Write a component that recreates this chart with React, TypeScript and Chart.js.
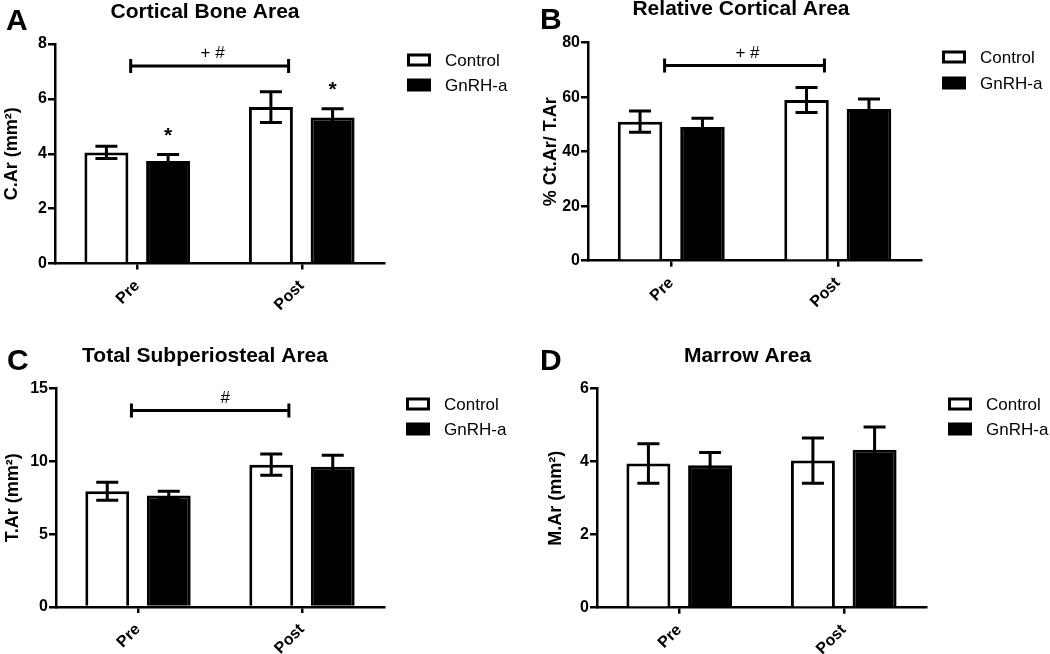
import React, { useEffect, useRef } from 'react';
import { Chart, registerables } from 'chart.js';

Chart.register(...registerables);

const FONT = "'Liberation Sans', Arial, Helvetica, sans-serif";

// ---------- data ----------
const categories = ['Pre', 'Post'];
const seriesNames = ['Control', 'GnRH-a'];

// A: Cortical Bone Area
const controlA = [4.05, 5.7];
const controlAErr = [0.22, 0.56];
const gnrhA = [3.74, 5.32];
const gnrhAErr = [0.23, 0.32];
const gnrhAStars = ['*', '*'];
const ticksA = [0, 2, 4, 6, 8];
const sigAValue = 7.2;
const sigALabel = '+ #';

// B: Relative Cortical Area
const controlB = [51.0, 59.0];
const controlBErr = [3.9, 4.6];
const gnrhB = [49.1, 55.7];
const gnrhBErr = [3.2, 3.6];
const gnrhBStars = ['', ''];
const ticksB = [0, 20, 40, 60, 80];
const sigBValue = 71.6;
const sigBLabel = '+ #';

// C: Total Subperiosteal Area
const controlC = [7.95, 9.78];
const controlCErr = [0.62, 0.73];
const gnrhC = [7.67, 9.64];
const gnrhCErr = [0.28, 0.78];
const gnrhCStars = ['', ''];
const ticksC = [0, 5, 10, 15];
const sigCValue = 13.5;
const sigCLabel = '#';

// D: Marrow Area
const controlD = [3.95, 4.03];
const controlDErr = [0.54, 0.62];
const gnrhD = [3.9, 4.33];
const gnrhDErr = [0.35, 0.62];
const gnrhDStars = ['', ''];
const ticksD = [0, 2, 4, 6];

// ---------- panel setup ----------
const W = 525;
const H = 327;

type Panel = {
  letter: string;
  title: string;
  yTitle: string;
  control: number[];
  controlErr: number[];
  gnrh: number[];
  gnrhErr: number[];
  stars: string[];
  ticks: number[];
  sig: { value: number; label: string; labelShift: number } | null;
  pos: { left: number; top: number };
  area: { l: number; t: number; r: number; b: number };
  yTitlePad: number;
  legend: { x: number; y: number; gap: number };
  titlePos: { x: number; baseline: number };
  letterPos: { x: number; baseline: number };
};

const panels: Panel[] = [
  {
    letter: 'A', title: 'Cortical Bone Area', yTitle: 'C.Ar (mm²)',
    control: controlA, controlErr: controlAErr, gnrh: gnrhA, gnrhErr: gnrhAErr, stars: gnrhAStars,
    ticks: ticksA, sig: { value: sigAValue, label: sigALabel, labelShift: 3 },
    pos: { left: 0, top: 0 }, area: { l: 55, t: 44, r: 384, b: 263.5 }, yTitlePad: 1,
    legend: { x: 407, y: 60, gap: 25 }, titlePos: { x: 205, baseline: 18 }, letterPos: { x: 6, baseline: 30 },
  },
  {
    letter: 'B', title: 'Relative Cortical Area', yTitle: '% Ct.Ar/ T.Ar',
    control: controlB, controlErr: controlBErr, gnrh: gnrhB, gnrhErr: gnrhBErr, stars: gnrhBStars,
    ticks: ticksB, sig: { value: sigBValue, label: sigBLabel, labelShift: 3 },
    pos: { left: 525, top: 0 }, area: { l: 63, t: 42.7, r: 396, b: 260.7 }, yTitlePad: 15,
    legend: { x: 417, y: 57, gap: 26 }, titlePos: { x: 216, baseline: 15 }, letterPos: { x: 15, baseline: 29 },
  },
  {
    letter: 'C', title: 'Total Subperiosteal Area', yTitle: 'T.Ar (mm²)',
    control: controlC, controlErr: controlCErr, gnrh: gnrhC, gnrhErr: gnrhCErr, stars: gnrhCStars,
    ticks: ticksC, sig: { value: sigCValue, label: sigCLabel, labelShift: 15 },
    pos: { left: 0, top: 327 }, area: { l: 56, t: 61.7, r: 384, b: 280 }, yTitlePad: 2,
    legend: { x: 406, y: 77, gap: 25 }, titlePos: { x: 205, baseline: 35 }, letterPos: { x: 7, baseline: 43 },
  },
  {
    letter: 'D', title: 'Marrow Area', yTitle: 'M.Ar (mm²)',
    control: controlD, controlErr: controlDErr, gnrh: gnrhD, gnrhErr: gnrhDErr, stars: gnrhDStars,
    ticks: ticksD, sig: null,
    pos: { left: 525, top: 327 }, area: { l: 72, t: 61.7, r: 401, b: 280.7 }, yTitlePad: 20,
    legend: { x: 423, y: 77, gap: 25 }, titlePos: { x: 222.5, baseline: 35 }, letterPos: { x: 15, baseline: 43 },
  },
];

const decorPlugin = {
  id: 'panelDecor',
  afterDatasetsDraw(chart: any, _args: any, opts: any) {
    const p: Panel = opts.panel;
    if (!p) return;
    const ctx: CanvasRenderingContext2D = chart.ctx;
    const xs = chart.scales.x;
    const ys = chart.scales.y;
    const errs = [p.controlErr, p.gnrhErr];
    ctx.save();
    ctx.strokeStyle = '#000';
    ctx.lineWidth = 3;
    ctx.lineCap = 'butt';
    const capHalf = 11;
    chart.data.datasets.forEach((ds: any, di: number) => {
      const meta = chart.getDatasetMeta(di);
      meta.data.forEach((bar: any, j: number) => {
        const v = ds.data[j];
        const e = errs[di][j];
        const top = ys.getPixelForValue(v + e);
        const bot = ys.getPixelForValue(v - e);
        ctx.beginPath();
        ctx.moveTo(bar.x, top);
        ctx.lineTo(bar.x, bot);
        ctx.moveTo(bar.x - capHalf, top);
        ctx.lineTo(bar.x + capHalf, top);
        ctx.moveTo(bar.x - capHalf, bot);
        ctx.lineTo(bar.x + capHalf, bot);
        ctx.stroke();
        if (di === 1 && p.stars[j]) {
          ctx.fillStyle = '#000';
          ctx.font = `bold 21px ${FONT}`;
          ctx.textAlign = 'center';
          ctx.textBaseline = 'alphabetic';
          ctx.fillText(p.stars[j], bar.x, top - 13);
        }
      });
    });

    // significance bracket
    if (p.sig) {
      const x1 = xs.getPixelForValue(-0.04);
      const x2 = xs.getPixelForValue(0.92);
      const yy = ys.getPixelForValue(p.sig.value);
      ctx.lineWidth = 3;
      ctx.beginPath();
      ctx.moveTo(x1, yy);
      ctx.lineTo(x2, yy);
      ctx.moveTo(x1, yy - 7);
      ctx.lineTo(x1, yy + 7);
      ctx.moveTo(x2, yy - 7);
      ctx.lineTo(x2, yy + 7);
      ctx.stroke();
      ctx.fillStyle = '#000';
      ctx.font = `17px ${FONT}`;
      ctx.textAlign = 'center';
      ctx.textBaseline = 'alphabetic';
      ctx.fillText(p.sig.label, (x1 + x2) / 2 + p.sig.labelShift, yy - 8);
    }
    ctx.restore();
  },
  afterDraw(chart: any, _args: any, opts: any) {
    const p: Panel = opts.panel;
    if (!p) return;
    const ctx: CanvasRenderingContext2D = chart.ctx;
    ctx.save();
    ctx.fillStyle = '#000';
    // panel letter
    ctx.font = `bold 30px ${FONT}`;
    ctx.textAlign = 'left';
    ctx.textBaseline = 'alphabetic';
    ctx.fillText(p.letter, p.letterPos.x, p.letterPos.baseline);
    // title
    ctx.font = `bold 21px ${FONT}`;
    ctx.textAlign = 'center';
    ctx.fillText(p.title, p.titlePos.x, p.titlePos.baseline);
    // legend
    chart.data.datasets.forEach((ds: any, i: number) => {
      const cy = p.legend.y + i * p.legend.gap;
      const bx = p.legend.x;
      const bw = 24;
      const bh = 13;
      ctx.fillStyle = ds.borderColor;
      ctx.fillRect(bx, cy - bh / 2, bw, bh);
      ctx.fillStyle = ds.backgroundColor;
      ctx.fillRect(bx + 3, cy - bh / 2 + 3, bw - 6, bh - 6);
      ctx.fillStyle = '#000';
      ctx.font = `17px ${FONT}`;
      ctx.textAlign = 'left';
      ctx.textBaseline = 'middle';
      ctx.fillText(ds.label, bx + 38, cy + 1);
    });
    ctx.restore();
  },
};

function PanelChart({ p }: { p: Panel }) {
  const ref = useRef<HTMLCanvasElement | null>(null);
  useEffect(() => {
    if (!ref.current) return;
    const t = p.ticks;
    const chart = new Chart(ref.current, {
      type: 'bar',
      data: {
        labels: categories,
        datasets: [
          {
            label: seriesNames[0],
            data: p.control,
            backgroundColor: '#ffffff',
            borderColor: '#000000',
            borderWidth: 3,
            categoryPercentage: 0.75,
            barPercentage: 0.713,
          },
          {
            label: seriesNames[1],
            data: p.gnrh,
            backgroundColor: '#000000',
            borderColor: '#000000',
            borderWidth: 3,
            categoryPercentage: 0.75,
            barPercentage: 0.713,
          },
        ],
      },
      options: {
        responsive: false,
        animation: false,
        events: [],
        layout: { padding: { left: 0, top: p.area.t, right: W - p.area.r, bottom: 0 } },
        plugins: {
          legend: { display: false },
          title: { display: false },
          tooltip: { enabled: false },
          panelDecor: { panel: p },
        } as any,
        scales: {
          x: {
            offset: true,
            grid: {
              display: true,
              drawOnChartArea: false,
              drawTicks: true,
              offset: false,
              tickLength: 6,
              color: '#000',
              lineWidth: 2.5,
            },
            border: { display: true, color: '#000', width: 2.5 },
            ticks: {
              color: '#000',
              font: { family: FONT, size: 16, weight: 'bold' },
              minRotation: 45,
              maxRotation: 45,
              padding: 7,
            },
            afterFit: (s: any) => {
              s.height = H - p.area.b;
            },
          },
          y: {
            min: t[0],
            max: t[t.length - 1],
            ticks: {
              stepSize: t[1] - t[0],
              color: '#000',
              font: { family: FONT, size: 16, weight: 'bold' },
              padding: 1,
            },
            grid: {
              display: true,
              drawOnChartArea: false,
              drawTicks: true,
              tickLength: 7,
              color: '#000',
              lineWidth: 2.5,
            },
            border: { display: true, color: '#000', width: 2.5 },
            title: {
              display: true,
              text: p.yTitle,
              color: '#000',
              font: { family: FONT, size: 18, weight: 'bold' },
              padding: { top: p.yTitlePad, bottom: 0 },
            },
            afterFit: (s: any) => {
              s.width = p.area.l;
            },
          },
        } as any,
      },
      plugins: [decorPlugin as any],
    });
    return () => chart.destroy();
  }, [p]);
  return (
    <canvas
      ref={ref}
      width={W}
      height={H}
      style={{ position: 'absolute', left: p.pos.left, top: p.pos.top, width: W, height: H, display: 'block' }}
    />
  );
}

export default function App() {
  return (
    <div
      style={{
        position: 'absolute',
        left: 0,
        top: 0,
        width: 1050,
        height: 654,
        background: '#ffffff',
        overflow: 'hidden',
      }}
    >
      {panels.map((p) => (
        <PanelChart key={p.letter} p={p} />
      ))}
    </div>
  );
}
